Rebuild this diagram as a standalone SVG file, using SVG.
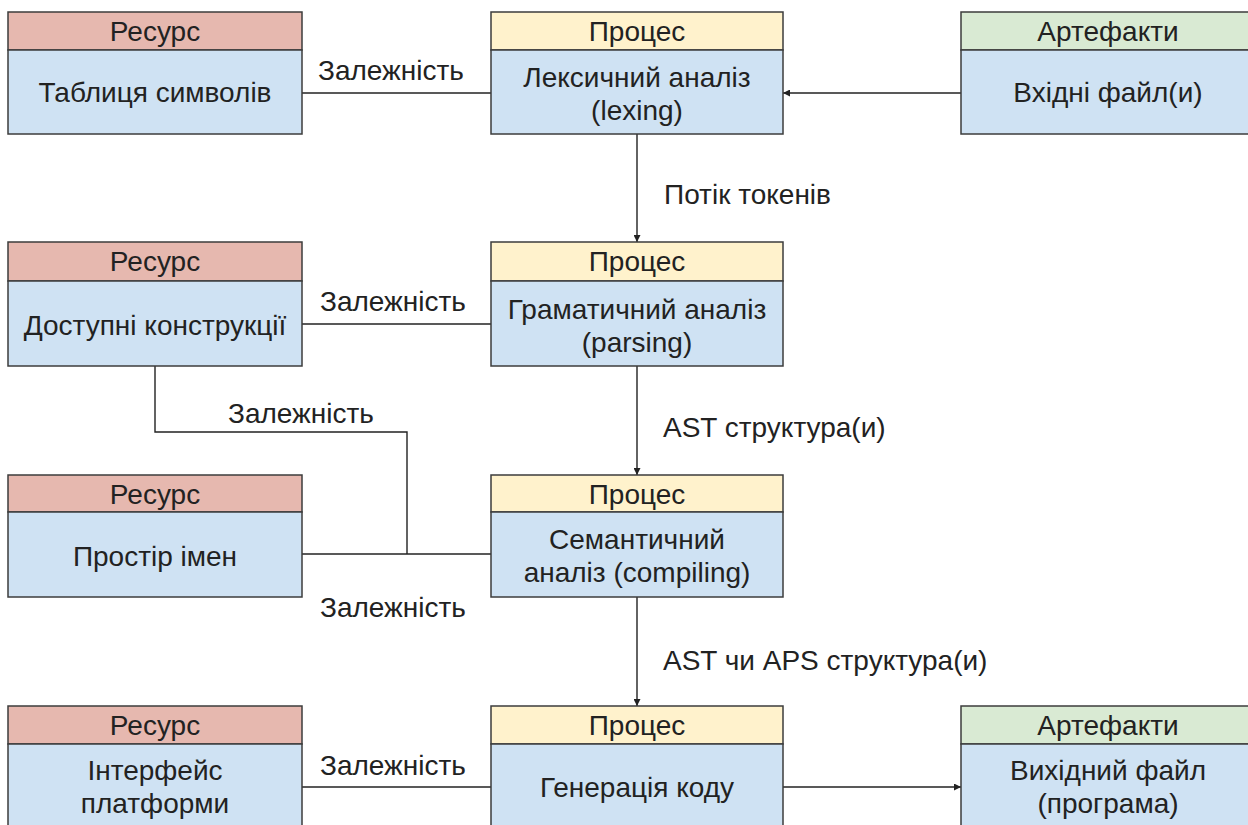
<svg xmlns="http://www.w3.org/2000/svg" width="1248" height="825" viewBox="0 0 1248 825">
  <style>
    text { font-family: "Liberation Sans", Arial, sans-serif; font-size: 28px; fill: #222; }
    .c { text-anchor: middle; dominant-baseline: central; }
    .l { text-anchor: start; dominant-baseline: central; }
    .box { stroke: #3c3c3c; stroke-width: 1.5; }
    .res { fill: #e6b8af; }
    .proc { fill: #fff2cc; }
    .art { fill: #d9ead3; }
    .body { fill: #cfe2f3; }
    .wire { fill: none; stroke: #222; stroke-width: 1.4; }
  </style>
  <defs>
    <marker id="arrow" viewBox="0 0 10 10" refX="10" refY="5" markerWidth="7" markerHeight="7" orient="auto" markerUnits="userSpaceOnUse">
      <path d="M0,0 L10,5 L0,10 z" fill="#222"/>
    </marker>
  </defs>
  <rect width="1248" height="825" fill="#fff"/>

  <!-- connectors -->
  <g id="connectors">
    <path class="wire" d="M302,93 H491"/>
    <path class="wire" d="M961,93 H783" marker-end="url(#arrow)"/>
    <path class="wire" d="M637,134 V242" marker-end="url(#arrow)"/>
    <path class="wire" d="M302,324 H491"/>
    <path class="wire" d="M637,366 V475" marker-end="url(#arrow)"/>
    <path class="wire" d="M155,366 V432 H407 V554"/>
    <path class="wire" d="M302,554 H491"/>
    <path class="wire" d="M637,597 V706" marker-end="url(#arrow)"/>
    <path class="wire" d="M302,787 H491"/>
    <path class="wire" d="M783,787 H961" marker-end="url(#arrow)"/>
    <text class="l" x="318" y="70">Залежність</text>
    <text class="l" x="664" y="194">Потік токенів</text>
    <text class="l" x="320" y="301">Залежність</text>
    <text class="l" x="228" y="413">Залежність</text>
    <text class="l" x="663" y="427">AST структура(и)</text>
    <text class="l" x="320" y="607">Залежність</text>
    <text class="l" x="663" y="660">AST чи APS структура(и)</text>
    <text class="l" x="320" y="765">Залежність</text>
  </g>

  <!-- row 1 -->
  <g id="symbol-table">
    <rect class="box res" x="8" y="12" width="294" height="38"/>
    <rect class="box body" x="8" y="50" width="294" height="84"/>
    <text class="c" x="155" y="31">Ресурс</text>
    <text class="c" x="155" y="92">Таблиця символів</text>
  </g>
  <g id="lexing">
    <rect class="box proc" x="491" y="12" width="292" height="38"/>
    <rect class="box body" x="491" y="50" width="292" height="84"/>
    <text class="c" x="637" y="31">Процес</text>
    <text class="c" x="637" y="77">Лексичний аналіз</text>
    <text class="c" x="637" y="110">(lexing)</text>
  </g>
  <g id="input-files">
    <rect class="box art" x="961" y="12" width="294" height="38"/>
    <rect class="box body" x="961" y="50" width="294" height="84"/>
    <text class="c" x="1108" y="31">Артефакти</text>
    <text class="c" x="1108" y="92">Вхідні файл(и)</text>
  </g>

  <!-- row 2 -->
  <g id="constructs">
    <rect class="box res" x="8" y="242" width="294" height="39"/>
    <rect class="box body" x="8" y="281" width="294" height="85"/>
    <text class="c" x="155" y="261">Ресурс</text>
    <text class="c" x="155" y="325">Доступні конструкції</text>
  </g>
  <g id="parsing">
    <rect class="box proc" x="491" y="242" width="292" height="39"/>
    <rect class="box body" x="491" y="281" width="292" height="85"/>
    <text class="c" x="637" y="261">Процес</text>
    <text class="c" x="637" y="309">Граматичний аналіз</text>
    <text class="c" x="637" y="342">(parsing)</text>
  </g>

  <!-- row 3 -->
  <g id="namespace">
    <rect class="box res" x="8" y="475" width="294" height="37"/>
    <rect class="box body" x="8" y="512" width="294" height="85"/>
    <text class="c" x="155" y="494">Ресурс</text>
    <text class="c" x="155" y="556">Простір імен</text>
  </g>
  <g id="compiling">
    <rect class="box proc" x="491" y="475" width="292" height="37"/>
    <rect class="box body" x="491" y="512" width="292" height="85"/>
    <text class="c" x="637" y="494">Процес</text>
    <text class="c" x="637" y="539">Семантичний</text>
    <text class="c" x="637" y="572">аналіз (compiling)</text>
  </g>

  <!-- row 4 -->
  <g id="platform">
    <rect class="box res" x="8" y="706" width="294" height="38"/>
    <rect class="box body" x="8" y="744" width="294" height="86"/>
    <text class="c" x="155" y="725">Ресурс</text>
    <text class="c" x="155" y="770">Інтерфейс</text>
    <text class="c" x="155" y="803">платформи</text>
  </g>
  <g id="codegen">
    <rect class="box proc" x="491" y="706" width="292" height="38"/>
    <rect class="box body" x="491" y="744" width="292" height="86"/>
    <text class="c" x="637" y="725">Процес</text>
    <text class="c" x="637" y="787">Генерація коду</text>
  </g>
  <g id="output-file">
    <rect class="box art" x="961" y="706" width="294" height="38"/>
    <rect class="box body" x="961" y="744" width="294" height="86"/>
    <text class="c" x="1108" y="725">Артефакти</text>
    <text class="c" x="1108" y="770">Вихідний файл</text>
    <text class="c" x="1108" y="803">(програма)</text>
  </g>
</svg>
